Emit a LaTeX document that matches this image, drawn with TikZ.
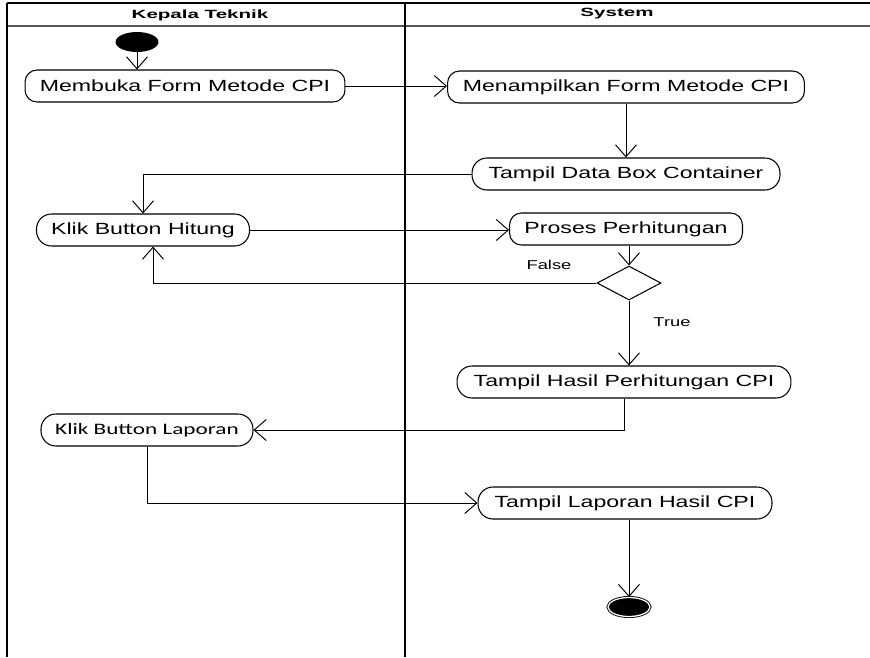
\documentclass[tikz,border=0pt]{standalone}
\usepackage{fontspec}
\setmainfont{Liberation Sans}
\newfontfamily\actfont[FakeStretch=1.43]{Liberation Sans}
\newfontfamily\lanefont[FakeStretch=1.72]{Liberation Sans}
\newfontfamily\calfont[FakeStretch=1.45]{Carlito}
\usetikzlibrary{arrows.meta,shapes.geometric}

\begin{document}
\begin{tikzpicture}[x=0.02cm, y=-0.02cm,
  act/.style={draw, line width=0.6pt, rounded corners=0.24cm, minimum height=0.64cm, inner sep=0pt, font=\actfont\fontsize{9.2}{10}\selectfont},
  pill/.style={act, rounded corners=0.3cm},
  decision/.style={diamond, draw, line width=0.6pt, inner sep=0pt, minimum width=1.28cm, minimum height=0.68cm},
  start/.style={ellipse, fill=black, inner sep=0pt, minimum width=0.86cm, minimum height=0.4cm},
  finish/.style={ellipse, draw, fill=black, double=white, double distance=0.7pt, line width=0.5pt, inner sep=0pt, minimum width=0.84cm, minimum height=0.38cm},
  lane/.style={line width=1.1pt},
  flow/.style={line width=0.55pt, -{Straight Barb[length=0.24cm, width=0.42cm]}},
  guard/.style={font=\actfont\fontsize{7.3}{8}\selectfont}]
\useasboundingbox (0,0) rectangle (870,657);
\draw [lane] (7,3) -- (870,3);
\draw [lane, gray!70!black] (7,26) -- (870,26);
\draw [lane] (7,3) -- (7,657);
\draw [lane] (405,3) -- (405,657);
\node (kepala) at (200,15) {\lanefont\bfseries\fontsize{6.8}{7}\selectfont Kepala Teknik};
\node (system) at (617,14) {\lanefont\bfseries\fontsize{6.8}{7}\selectfont System};
\node [start] (mulai) at (137,42) {};
\node [act, minimum width=6.4cm] (membuka) at (185,86) {Membuka Form Metode CPI};
\node [act, minimum width=7.14cm] (tampilform) at (626,87) {Menampilkan Form Metode CPI};
\node [pill, minimum width=6.16cm] (databox) at (626,174) {Tampil Data Box Container};
\node [pill, minimum width=4.26cm] (hitung) at (143,230) {Klik Button Hitung};
\node [act, minimum width=4.66cm] (proses) at (626,229) {Proses Perhitungan};
\node [decision] (cek) at (629,283) {};
\node [guard] (false) at (549,265) {False};
\node [guard] (true) at (672,322) {True};
\node [pill, minimum width=6.68cm] (hasil) at (624,382) {Tampil Hasil Perhitungan CPI};
\node [pill, minimum width=4.24cm, font=\calfont\fontsize{9.1}{10}\selectfont] (laporan) at (147,430) {Klik Button Laporan};
\node [pill, minimum width=5.88cm] (tlaporan) at (625,503) {Tampil Laporan Hasil CPI};
\node [finish] (selesai) at (629,607) {};
\draw [flow] (mulai) -- (mulai |- membuka.north);
\draw [flow] (membuka.east) -- (membuka.east -| tampilform.west);
\draw [flow] (tampilform) -- (databox);
\draw [flow] (databox.west) -| (hitung.north);
\draw [flow] (hitung.east) -- (hitung.east -| proses.west);
\draw [flow] (cek.north |- proses.south) -- (cek.north);
\draw [flow] (cek.west) -| ([xshift=0.2cm]hitung.south);
\draw [flow] (cek.south) -- (cek.south |- hasil.north);
\draw [flow] (hasil.south) |- (laporan.east);
\draw [flow] (laporan.south) |- (tlaporan.west);
\draw [flow] (selesai.north |- tlaporan.south) -- (selesai.north);
\end{tikzpicture}
\end{document}
